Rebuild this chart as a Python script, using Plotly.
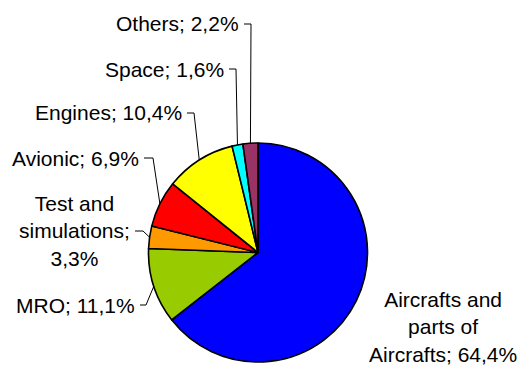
import math
import plotly.graph_objects as go

# ---- data ----
categories = ["Aircrafts and<br>parts of<br>Aircrafts", "MRO", "Test and<br>simulations;", "Avionic",
              "Engines", "Space", "Others"]
values = [64.4, 11.1, 3.3, 6.9, 10.4, 1.6, 2.2]
value_labels = ["64,4%", "11,1%", "3,3%", "6,9%", "10,4%", "1,6%", "2,2%"]
colors = ["#0000FF", "#99CC00", "#FF9900", "#FF0000", "#FFFF00", "#00FFFF", "#993366"]

# ---- layout ----
W, H = 522, 365
CX, CY, R = 258.0, 252.5, 109.5   # pie centre / radius in pixels

def px(x):
    return x / W

def py(y):
    return 1 - y / H

fig = go.Figure(go.Pie(
    labels=[c.replace("<br>", " ") for c in categories],
    values=values,
    sort=False,
    direction="clockwise",
    rotation=0,
    marker=dict(colors=colors, line=dict(color="black", width=1.6)),
    textinfo="none",
    hoverinfo="label+percent",
    domain=dict(x=[px(CX - R), px(CX + R)], y=[py(CY + R), py(CY - R)]),
    showlegend=False,
))

# label placement (pixels): text right edge x / centre x, centre y, elbow x, anchor
label_pos = [
    (443, 327, None, "center"),
    (137, 305, 146, "right"),
    (132, 231, 143, "right"),
    (141, 158, 153, "right"),
    (184, 113, 194, "right"),
    (226, 69, 236, "right"),
    (241, 24, 251, "right"),
]

total = sum(values)
cum = 0.0
annotations = []
shapes = []
for cat, v, vl, (lx, ly, ex, anc) in zip(categories, values, value_labels, label_pos):
    mid = (cum + v / 2) / total * 2 * math.pi
    cum += v
    if cat.startswith("Test"):
        text = cat + "<br>" + vl
    else:
        text = cat + "; " + vl
    annotations.append(dict(
        x=px(lx), y=py(ly), xref="paper", yref="paper", text=text, showarrow=False,
        xanchor=anc, yanchor="middle", align="center",
        font=dict(family="Liberation Sans, Arial", size=21, color="#000000"),
    ))
    if ex is not None:
        exx = CX + R * math.sin(mid)
        eyy = CY - R * math.cos(mid)
        path = "M {} {} L {} {} L {} {}".format(
            px(lx + 3), py(ly), px(ex), py(ly), px(exx), py(eyy))
        shapes.append(dict(type="path", xref="paper", yref="paper", path=path,
                           line=dict(color="#000000", width=1)))

fig.update_layout(
    width=W, height=H,
    margin=dict(l=0, r=0, t=0, b=0),
    paper_bgcolor="white", plot_bgcolor="white",
    annotations=annotations, shapes=shapes,
)

fig.write_html("out.html")
